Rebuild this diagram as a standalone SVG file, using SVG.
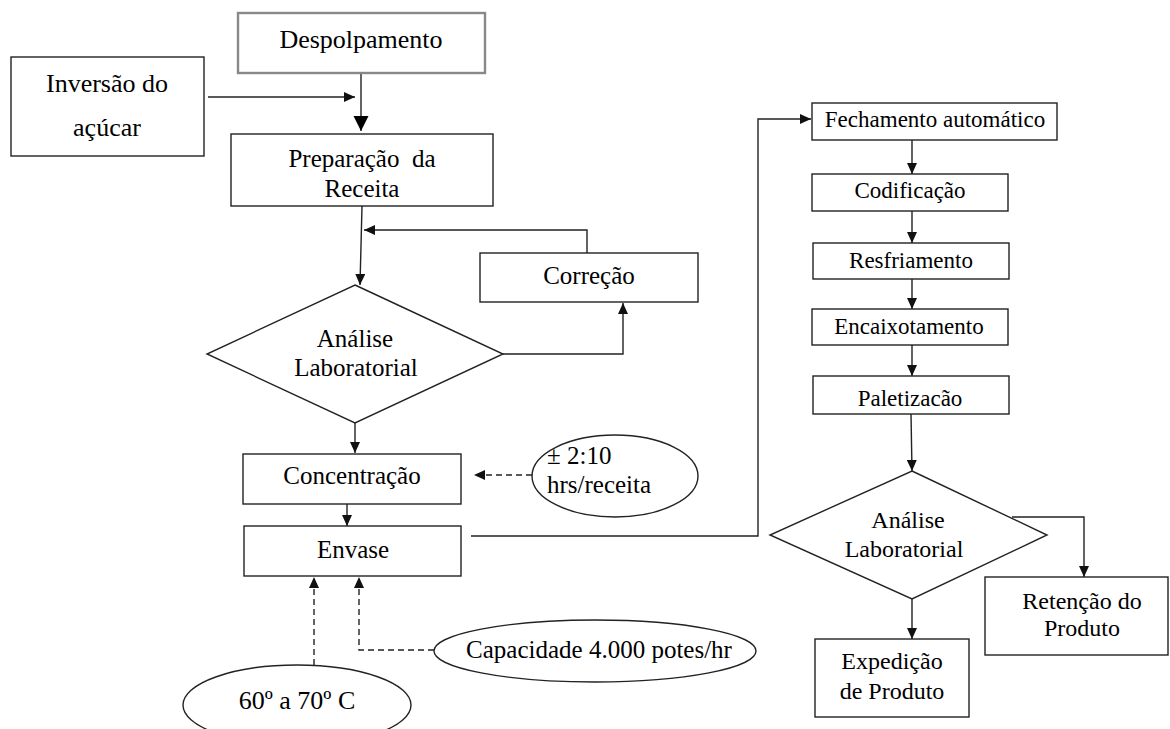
<svg xmlns="http://www.w3.org/2000/svg" width="1170" height="729" viewBox="0 0 1170 729">
<style>
.box{fill:#fff;stroke:#222;stroke-width:1.4}
.t{font-family:'Liberation Serif','DejaVu Serif',serif;fill:#000;white-space:pre}
.m{text-anchor:middle}
.s{text-anchor:start}
.c{fill:none;stroke:#222;stroke-width:1.4}
.d{fill:none;stroke:#222;stroke-width:1.4;stroke-dasharray:6,4}
</style>
<defs>
<marker id="a" markerUnits="userSpaceOnUse" markerWidth="12" markerHeight="10" refX="11" refY="5" orient="auto"><path d="M0,0 L11,5 L0,10 Z" fill="#111"/></marker>
<marker id="ab" markerUnits="userSpaceOnUse" markerWidth="16" markerHeight="16" refX="15" refY="7.5" orient="auto"><path d="M0,0 L15,7.5 L0,15 Z" fill="#000"/></marker>
</defs>
<rect width="1170" height="729" fill="#fff"/>
<g id="connectors">
<path class="c" d="M208,97 H355" stroke-width="2.2" stroke="#333" marker-end="url(#a)"/>
<path class="c" d="M361,73 V131" stroke-width="2.4" stroke="#000" marker-end="url(#ab)"/>
<path class="c" d="M362,206 L360,285" marker-end="url(#a)"/>
<path class="c" d="M587,253 V230 H364" marker-end="url(#a)"/>
<path class="c" d="M503,354 H623 V303" marker-end="url(#a)"/>
<path class="c" d="M355,423 V453" marker-end="url(#a)"/>
<path class="c" d="M347,497 V526" marker-end="url(#a)"/>
<path class="c" d="M471,536 H758 V119 H811" marker-end="url(#a)"/>
<path class="d" d="M532,475 H474" marker-end="url(#a)"/>
<path class="d" d="M314,665 V577" marker-end="url(#a)"/>
<path class="d" d="M434,650 H359 V577" marker-end="url(#a)"/>
<path class="c" d="M912,140 V174" marker-end="url(#a)"/>
<path class="c" d="M912,211 V243" marker-end="url(#a)"/>
<path class="c" d="M912,279 V309" marker-end="url(#a)"/>
<path class="c" d="M912,345 V376" marker-end="url(#a)"/>
<path class="c" d="M911,414 L912,471" marker-end="url(#a)"/>
<path class="c" d="M912,599 V639" marker-end="url(#a)"/>
<path class="c" d="M1012,517 H1084 V577" marker-end="url(#a)"/>
</g>
<g id="despolpamento"><rect class="box" x="238" y="13" width="247" height="60" stroke="#888" stroke-width="2.4" style="stroke:#888;stroke-width:2.4"/><text class="t m" x="361" y="48" font-size="26">Despolpamento</text></g>
<g id="inversao"><rect class="box" x="11" y="57" width="193" height="99"/><text class="t m" x="107" y="92" font-size="26">Inversão do</text><text class="t m" x="107" y="136" font-size="26">açúcar</text></g>
<g id="preparacao"><rect class="box" x="231" y="134" width="262" height="72"/><text class="t m" x="362" y="167" font-size="25">Preparação  da</text><text class="t m" x="362" y="197" font-size="25">Receita</text></g>
<g id="correcao"><rect class="box" x="480" y="253" width="218" height="49"/><text class="t m" x="589" y="284" font-size="25">Correção</text></g>
<g id="analise1"><polygon class="box" points="355,285 503,354 355,423 207,354"/><text class="t m" x="355" y="347" font-size="25">Análise</text><text class="t m" x="356" y="376" font-size="25">Laboratorial</text></g>
<g id="concentracao"><rect class="box" x="243" y="454" width="218" height="50"/><text class="t m" x="352" y="484" font-size="25">Concentração</text></g>
<g id="envase"><rect class="box" x="244" y="526" width="217" height="50"/><text class="t m" x="353" y="558" font-size="25">Envase</text></g>
<g id="tempo"><ellipse class="box" cx="615" cy="476" rx="83" ry="41"/><text class="t s" x="547" y="464" font-size="25">± 2:10</text><text class="t s" x="547" y="493" font-size="25">hrs/receita</text></g>
<g id="capacidade"><ellipse class="box" cx="595" cy="651" rx="161" ry="31"/><text class="t m" x="599" y="658" font-size="25">Capacidade 4.000 potes/hr</text></g>
<g id="temperatura"><ellipse class="box" cx="297" cy="705" rx="114" ry="40"/><text class="t m" x="297" y="709" font-size="26">60º a 70º C</text></g>
<g id="fechamento"><rect class="box" x="812" y="103" width="245" height="37"/><text class="t m" x="935" y="127" font-size="23">Fechamento automático</text></g>
<g id="codificacao"><rect class="box" x="812" y="174" width="196" height="37"/><text class="t m" x="910" y="198" font-size="23">Codificação</text></g>
<g id="resfriamento"><rect class="box" x="813" y="243" width="196" height="36"/><text class="t m" x="911" y="268" font-size="23">Resfriamento</text></g>
<g id="encaixotamento"><rect class="box" x="812" y="309" width="196" height="36"/><text class="t m" x="909" y="334" font-size="23">Encaixotamento</text></g>
<g id="paletizacao"><rect class="box" x="813" y="376" width="196" height="38"/><text class="t m" x="910" y="406" font-size="23">Paletizacão</text></g>
<g id="analise2"><polygon class="box" points="912,471 1047,535 912,599 770,535"/><text class="t m" x="908" y="528" font-size="24">Análise</text><text class="t m" x="904" y="557" font-size="24">Laboratorial</text></g>
<g id="expedicao"><rect class="box" x="815" y="639" width="154" height="78"/><text class="t m" x="892" y="669" font-size="24">Expedição</text><text class="t m" x="892" y="699" font-size="24">de Produto</text></g>
<g id="retencao"><rect class="box" x="985" y="577" width="183" height="78"/><text class="t m" x="1082" y="609" font-size="24">Retenção do</text><text class="t m" x="1082" y="636" font-size="24">Produto</text></g>
</svg>
